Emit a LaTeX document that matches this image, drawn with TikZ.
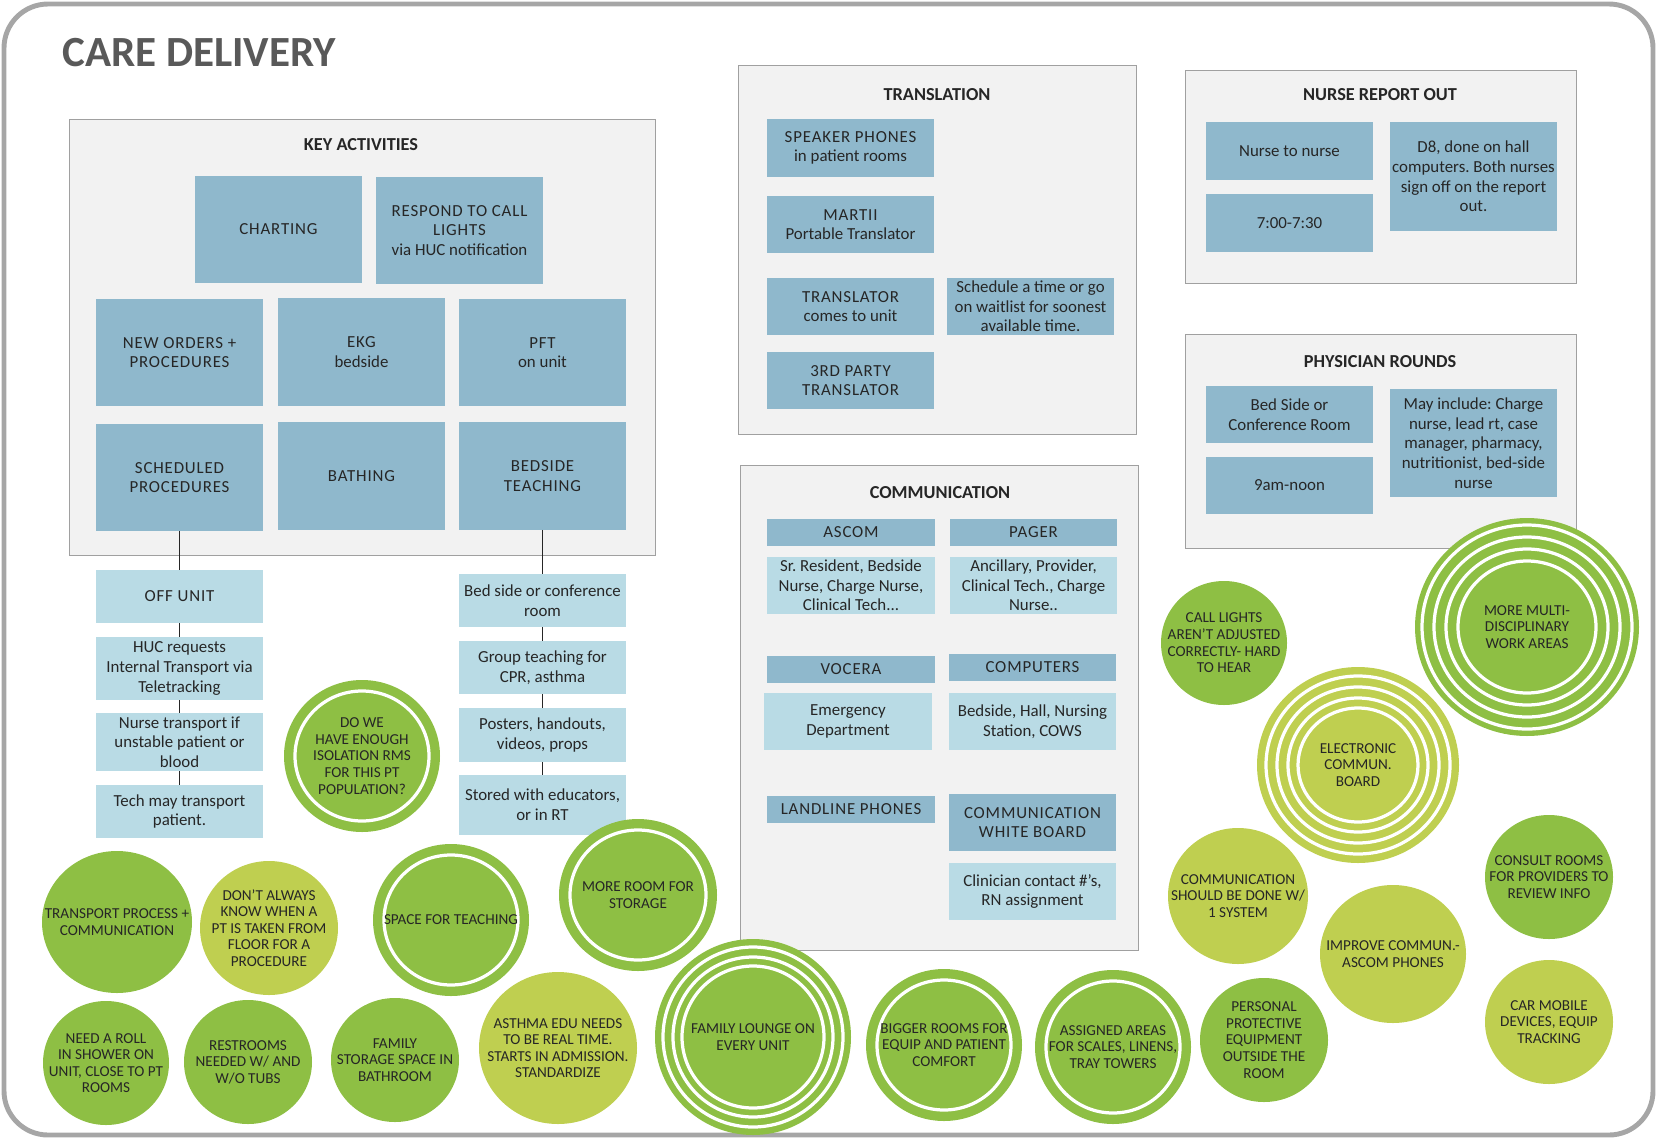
\documentclass[tikz,border=0pt]{standalone}
\usepackage{fontspec}
\setmainfont{Carlito}
\usepackage{tikz}
\frenchspacing

\definecolor{framegray}{RGB}{166,166,166}
\definecolor{panelfill}{RGB}{242,242,242}
\definecolor{panelline}{RGB}{160,160,160}
\definecolor{boxblue}{RGB}{143,184,204}
\definecolor{boxlight}{RGB}{185,219,229}
\definecolor{greenA}{RGB}{142,191,68}
\definecolor{greenB}{RGB}{191,207,80}
\definecolor{titlegray}{RGB}{89,89,89}
\definecolor{inkgray}{RGB}{38,38,38}

\newcommand{\tracked}[1]{{\addfontfeature{LetterSpace=5}#1}}

\begin{document}
\begin{tikzpicture}[x=0.025cm, y=-0.025cm,
				panel/.style={draw=panelline, fill=panelfill, line width=0.6pt},
				ptitle/.style={font=\fontsize{13}{15}\selectfont\bfseries, text=inkgray},
				kbox/.style={fill=boxblue, text=inkgray, align=center, inner sep=0.5pt,
					minimum width=4.175cm, font=\fontsize{12}{14}\selectfont},
				lbox/.style={kbox, fill=boxlight},
				ucase/.style={font=\fontsize{12}{14}\selectfont\addfontfeature{LetterSpace=5}},
				link/.style={draw=inkgray, line width=0.6pt},
				ring/.style={draw=white, line width=2.3pt},
				bubtext/.style={align=center, text=inkgray, inner sep=0pt,
					font=\fontsize{10.8}{11.8}\selectfont}]
				
				\useasboundingbox (0,0) rectangle (1658,1139);
				
				% Frame and title
				\draw[framegray, line width=3.5pt, rounded corners=1.1cm] (4,4) rectangle (1653,1135);
				\node[anchor=base west, inner sep=0pt, text=titlegray,
				font=\fontsize{30.6}{36}\selectfont\bfseries] (title) at (62,66) {CARE DELIVERY};
				
				% Key activities
				\draw[panel] (69,119) rectangle (655,555);
				\node[ptitle] (keyt) at (361,145) {KEY ACTIVITIES};
				\node[kbox, ucase, minimum height=2.675cm] (chart) at (278.5,229.5) {CHARTING};
				\node[kbox, minimum height=2.675cm] (respond) at (459.5,230.5) {\tracked{RESPOND TO CALL}\\\tracked{LIGHTS}\\via HUC notification};
				\node[kbox, ucase, minimum height=2.675cm] (orders) at (179.5,352.5) {NEW ORDERS +\\PROCEDURES};
				\node[kbox, minimum height=2.675cm] (ekg) at (361.5,352) {\tracked{EKG}\\bedside};
				\node[kbox, minimum height=2.675cm] (pft) at (542.5,352.5) {\tracked{PFT}\\on unit};
				\node[kbox, ucase, minimum height=2.675cm] (sched) at (179.5,477.5) {SCHEDULED\\PROCEDURES};
				\node[kbox, ucase, minimum height=2.675cm] (bathing) at (361.5,476) {BATHING};
				\node[kbox, ucase, minimum height=2.675cm] (teach) at (542.5,476) {BEDSIDE\\TEACHING};
				
				% Off unit chain
				\node[lbox, ucase, minimum height=1.325cm] (offunit) at (179.5,596.5) {OFF UNIT};
				\node[lbox, minimum height=1.575cm] (huc) at (179.5,668.5) {HUC requests\\Internal Transport via\\Teletracking};
				\node[lbox, minimum height=1.45cm] (nursetr) at (179.5,742) {Nurse transport if\\unstable patient or\\blood};
				\node[lbox, minimum height=1.325cm] (techtr) at (179.5,811.5) {Tech may transport\\patient.};
				
				% Teaching chain
				\node[lbox, minimum height=1.325cm] (bedconf) at (542.5,600.5) {Bed side or conference\\room};
				\node[lbox, minimum height=1.325cm] (group) at (542.5,667.5) {Group teaching for\\CPR, asthma};
				\node[lbox, minimum height=1.35cm] (posters) at (542.5,735) {Posters, handouts,\\videos, props};
				\node[lbox, minimum height=1.5cm] (stored) at (542.5,805) {Stored with educators,\\or in RT};
				
				\draw[link] (sched) -- (offunit);
				\draw[link] (offunit) -- (huc);
				\draw[link] (huc) -- (nursetr);
				\draw[link] (nursetr) -- (techtr);
				\draw[link] (teach) -- (bedconf);
				\draw[link] (bedconf) -- (group);
				\draw[link] (group) -- (posters);
				\draw[link] (posters) -- (stored);
				
				% Translation
				\draw[panel] (738,65) rectangle (1136,434);
				\node[ptitle] (transt) at (937,95) {TRANSLATION};
				\node[kbox, minimum height=1.45cm] (speaker) at (850.5,148) {\tracked{SPEAKER PHONES}\\in patient rooms};
				\node[kbox, minimum height=1.43cm] (martii) at (850.5,224.5) {\tracked{MARTII}\\Portable Translator};
				\node[kbox, minimum height=1.43cm] (transl) at (850.5,306.5) {\tracked{TRANSLATOR}\\comes to unit};
				\node[kbox, minimum height=1.43cm] (waitl) at (1030.5,306.5) {Schedule a time or go\\on waitlist for soonest\\available time.};
				\node[kbox, ucase, minimum height=1.43cm] (third) at (850.5,380.5) {3RD PARTY\\TRANSLATOR};
				
				% Nurse report out
				\draw[panel] (1185,70) rectangle (1576,283);
				\node[ptitle] (nurset) at (1380,95) {NURSE REPORT OUT};
				\node[kbox, minimum height=1.45cm] (n2n) at (1289.5,151) {Nurse to nurse};
				\node[kbox, minimum height=1.45cm] (shift) at (1289.5,223) {7:00-7:30};
				\node[kbox, minimum height=2.725cm] (deight) at (1473.5,176.5) {D8, done on hall\\computers. Both nurses\\sign off on the report\\out.};
				
				% Physician rounds
				\draw[panel] (1185,334) rectangle (1576,548);
				\node[ptitle] (physt) at (1380,361.5) {PHYSICIAN ROUNDS};
				\node[kbox, minimum height=1.425cm] (bedroom) at (1289.5,414.5) {Bed Side or\\Conference Room};
				\node[kbox, minimum height=1.425cm] (noon) at (1289.5,485.5) {9am-noon};
				\node[kbox, minimum height=2.7cm] (mayinc) at (1473.5,443) {May include: Charge\\nurse, lead rt, case\\manager, pharmacy,\\nutritionist, bed-side\\nurse};
				
				% Communication
				\draw[panel] (740,465) rectangle (1138,950);
				\node[ptitle] (commt) at (940,493) {COMMUNICATION};
				\node[kbox, ucase, minimum height=0.675cm] (ascom) at (851,532.5) {ASCOM};
				\node[kbox, ucase, minimum height=0.675cm] (pager) at (1033.5,532.5) {PAGER};
				\node[lbox, minimum height=1.425cm] (ascomw) at (851,585.5) {Sr. Resident, Bedside\\Nurse, Charge Nurse,\\Clinical Tech...};
				\node[lbox, minimum height=1.425cm] (pagerw) at (1033.5,585.5) {Ancillary, Provider,\\Clinical Tech., Charge\\Nurse..};
				\node[kbox, ucase, minimum height=0.675cm] (vocera) at (851,669.5) {VOCERA};
				\node[kbox, ucase, minimum height=0.675cm] (comp) at (1032.5,667.5) {COMPUTERS};
				\node[lbox, minimum height=1.425cm] (vocw) at (848,721.5) {Emergency\\Department};
				\node[lbox, minimum height=1.425cm] (compw) at (1032.5,721.5) {Bedside, Hall, Nursing\\Station, COWS};
				\node[kbox, ucase, minimum height=0.675cm] (landline) at (851,809.5) {LANDLINE PHONES};
				\node[kbox, ucase, minimum height=1.425cm] (wboard) at (1032.5,822.5) {COMMUNICATION\\WHITE BOARD};
				\node[lbox, minimum height=1.425cm] (wboardw) at (1032.5,891.5) {Clinician contact \#'s,\\RN assignment};
				
				% Bubbles
				\fill[greenA] (362,756) coordinate (isol) ellipse [x radius=78, y radius=76];
				\draw[ring] (isol) ellipse [x radius=67, y radius=65];
				\node[bubtext] (isolt) at (isol) {DO WE\\HAVE ENOUGH\\ISOLATION RMS\\FOR THIS PT\\POPULATION?};
				
				\fill[greenA] (117,922) coordinate (transp) ellipse [x radius=75, y radius=71];
				\node[bubtext] (transpt) at (transp) {TRANSPORT PROCESS +\\COMMUNICATION};
				
				\fill[greenB] (269,928) coordinate (dont) ellipse [x radius=69, y radius=67];
				\node[bubtext] (dontt) at (dont) {DON'T ALWAYS\\KNOW WHEN A\\PT IS TAKEN FROM\\FLOOR FOR A\\PROCEDURE};
				
				\fill[greenA] (451,920) coordinate (space) ellipse [x radius=78, y radius=76];
				\draw[ring] (space) ellipse [x radius=67, y radius=65];
				\node[bubtext] (spacet) at (space) {SPACE FOR TEACHING};
				
				\fill[greenA] (638,895) coordinate (storage) ellipse [x radius=79, y radius=76];
				\draw[ring] (storage) ellipse [x radius=68, y radius=65];
				\node[bubtext] (storaget) at (storage) {MORE ROOM FOR\\STORAGE};
				
				\fill[greenA] (106,1063) coordinate (roll) ellipse [x radius=63, y radius=62];
				\node[bubtext] (rollt) at (roll) {NEED A ROLL\\IN SHOWER ON\\UNIT, CLOSE TO PT\\ROOMS};
				
				\fill[greenA] (248,1062) coordinate (rest) ellipse [x radius=64, y radius=62];
				\node[bubtext] (restt) at (rest) {RESTROOMS\\NEEDED W/ AND\\W/O TUBS};
				
				\fill[greenA] (395,1060) coordinate (fstore) ellipse [x radius=64, y radius=62];
				\node[bubtext] (fstoret) at (fstore) {FAMILY\\STORAGE SPACE IN\\BATHROOM};
				
				\fill[greenB] (558,1048) coordinate (asthma) ellipse [x radius=79, y radius=76];
				\node[bubtext] (asthmat) at (asthma) {ASTHMA EDU NEEDS\\TO BE REAL TIME.\\STARTS IN ADMISSION.\\STANDARDIZE};
				
				\fill[greenA] (753,1037) coordinate (lounge) ellipse [x radius=98, y radius=98];
				\foreach \o in {8,18,27}
				\draw[ring] (lounge) ellipse [x radius=98-\o, y radius=98-\o];
				\node[bubtext] (lounget) at (lounge) {FAMILY LOUNGE ON\\EVERY UNIT};
				
				\fill[greenA] (944,1045) coordinate (bigger) ellipse [x radius=78, y radius=76];
				\draw[ring] (bigger) ellipse [x radius=67, y radius=65];
				\node[bubtext] (biggert) at (bigger) {BIGGER ROOMS FOR\\EQUIP AND PATIENT\\COMFORT};
				
				\fill[greenA] (1113,1047) coordinate (areas) ellipse [x radius=78, y radius=77];
				\draw[ring] (areas) ellipse [x radius=67, y radius=66];
				\node[bubtext] (areast) at (areas) {ASSIGNED AREAS\\FOR SCALES, LINENS,\\TRAY TOWERS};
				
				\fill[greenA] (1264,1040) coordinate (ppe) ellipse [x radius=64, y radius=62];
				\node[bubtext] (ppet) at (ppe) {PERSONAL\\PROTECTIVE\\EQUIPMENT\\OUTSIDE THE\\ROOM};
				
				\fill[greenA] (1224,643) coordinate (calls) ellipse [x radius=63, y radius=62];
				\node[bubtext] (callst) at (calls) {CALL LIGHTS\\AREN'T ADJUSTED\\CORRECTLY- HARD\\TO HEAR};
				
				\fill[greenB] (1358,765) coordinate (board) ellipse [x radius=101, y radius=98];
				\foreach \o in {9,20,31,41}
				\draw[ring] (board) ellipse [x radius=101-\o, y radius=98-\o];
				\node[bubtext] (boardt) at (board) {ELECTRONIC\\COMMUN.\\BOARD};
				
				\fill[greenA] (1527,627) coordinate (multi) ellipse [x radius=112, y radius=109];
				\foreach \o in {7,19,31,43}
				\draw[ring] (multi) ellipse [x radius=112-\o, y radius=109-\o];
				\node[bubtext] (multit) at (multi) {MORE MULTI-\\DISCIPLINARY\\WORK AREAS};
				
				\fill[greenB] (1238,896) coordinate (onesys) ellipse [x radius=70, y radius=68];
				\node[bubtext] (onesyst) at (onesys) {COMMUNICATION\\SHOULD BE DONE W/\\1 SYSTEM};
				
				\fill[greenB] (1393,954) coordinate (improve) ellipse [x radius=73, y radius=69];
				\node[bubtext] (improvet) at (improve) {IMPROVE COMMUN.-\\ASCOM PHONES};
				
				\fill[greenA] (1549,877) coordinate (consult) ellipse [x radius=64, y radius=62];
				\node[bubtext] (consultt) at (consult) {CONSULT ROOMS\\FOR PROVIDERS TO\\REVIEW INFO};
				
				\fill[greenB] (1549,1022) coordinate (carmob) ellipse [x radius=64, y radius=62];
				\node[bubtext] (carmobt) at (carmob) {CAR MOBILE\\DEVICES, EQUIP\\TRACKING};
			\end{tikzpicture}
\end{document}
